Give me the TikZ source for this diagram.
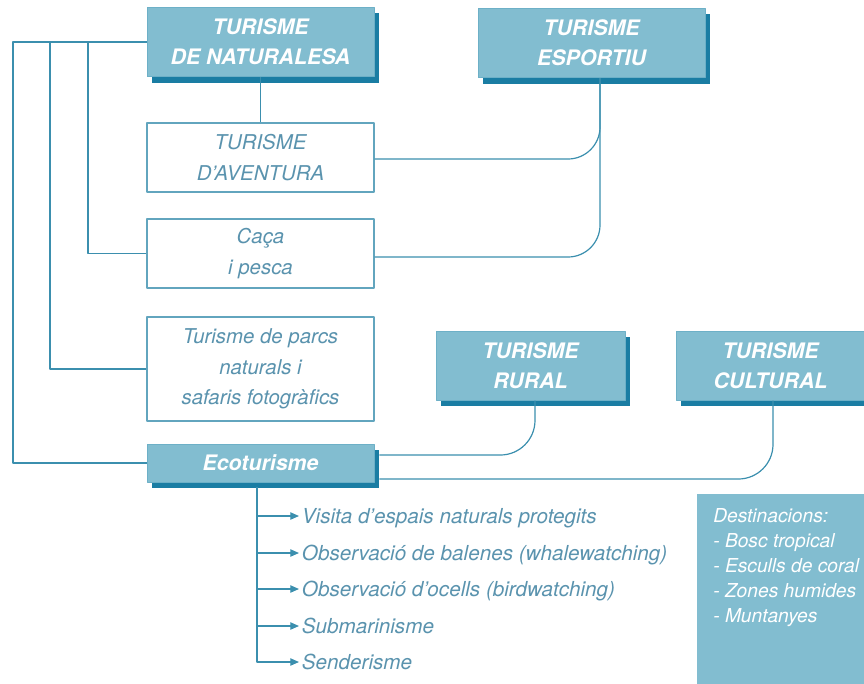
\documentclass[tikz,border=0pt]{standalone}
\usepackage{fontspec}
\setmainfont{TeX Gyre Heros}
\usetikzlibrary{calc,shadows,arrows.meta}
\definecolor{blauclar}{HTML}{82BDD0}
\definecolor{blaufosc}{HTML}{1A7DA3}
\definecolor{blaulinia}{HTML}{3B8FAE}
\definecolor{blautext}{HTML}{5A93AE}
\begin{document}
\begin{tikzpicture}[x=0.75pt, y=-0.75pt, >={Stealth[length=6.5pt, width=5.5pt, inset=0pt]}, line join=round,
	caixa/.style={fill=blauclar, draw=blauclar!80!blaufosc, line width=0.5pt, minimum width=170.25pt, minimum height=52pt, align=center, text=white, font=\fontsize{16}{22.5}\selectfont\bfseries\itshape, general shadow={fill=blaufosc, shadow xshift=3.75pt, shadow yshift=-4.5pt}},
	blanca/.style={fill=white, draw=blaulinia!80, line width=0.8pt, minimum width=170.25pt, minimum height=51.75pt, align=center, text=blautext, font=\fontsize{15.3}{23}\selectfont\itshape},
	enllac/.style={draw=blaulinia, line width=0.9pt},
	item/.style={anchor=west, inner xsep=2pt, inner ysep=0pt, text height=11pt, text depth=0pt, text=blautext, font=\fontsize{15.5}{18}\selectfont\itshape}]
			%% Marc
			\useasboundingbox (0,0) rectangle (864,683);
			\clip (0,0) rectangle (864,683);
			%% Caixes
			\node[caixa] (nat) at (260.5,42) {TURISME\\DE NATURALESA};
			\node[caixa] (esp) at (591.5,43) {TURISME\\ESPORTIU};
			\node[blanca] (aven) at (260.5,157.5) {TURISME\\D’AVENTURA};
			\node[blanca] (caca) at (260.5,253.5) {Caça\\i pesca};
			\node[blanca, minimum height=78pt] (parcs) at (260.5,369) {Turisme de parcs\\naturals i\\safaris fotogràfics};
			\node[caixa, minimum height=28.5pt] (eco) at (260.5,463) {Ecoturisme};
			\node[caixa, minimum width=141.75pt] (rural) at (530.5,365.5) {TURISME\\RURAL};
			\node[caixa, minimum width=141.75pt] (cult) at (770.5,365.5) {TURISME\\CULTURAL};
			%% Destinacions
			\fill[blauclar] (697,494) rectangle (900,700);
			\node[anchor=north west, inner sep=0pt, align=left, text=white, font=\fontsize{14.4}{18.75}\selectfont\itshape] (dest) at (713,508) {Destinacions:\\- Bosc tropical\\- Esculls de coral\\- Zones humides\\- Muntanyes};
			%% Llista de l'ecoturisme
			\node[item] (v1) at (299,516) {Visita d’espais naturals protegits};
			\node[item] (v2) at (299,553) {Observació de balenes (whalewatching)};
			\node[item] (v3) at (299,589) {Observació d’ocells (birdwatching)};
			\node[item] (v4) at (299,626) {Submarinisme};
			\node[item] (v5) at (299,662) {Senderisme};
			%% Enllaços
			\coordinate (railA) at (13,0);
			\coordinate (railB) at (50,0);
			\coordinate (railC) at (88,0);
			\coordinate (espbaix) at ($(esp.south)+(8.5,0)$);
			\coordinate (ruralbaix) at ($(rural.south)+(4.5,0)$);
			\coordinate (cultbaix) at ($(cult.south)+(2.5,0)$);
			\coordinate (tronc) at ($(eco.south)+(-3.5,5)$);
			\draw[enllac] (nat.south) -- (aven.north);
			\draw[enllac] (nat.west) -- (nat.west -| railA) |- (eco.west);
			\draw[enllac] (nat.west -| railB) |- (parcs.west);
			\draw[enllac] (nat.west -| railC) |- (caca.west);
			\draw[enllac, rounded corners=24pt] (espbaix) |- ($(aven.east)+(0,1.5)$);
			\draw[enllac, rounded corners=24pt] (espbaix) |- ($(caca.east)+(0,3.5)$);
			\draw[enllac, rounded corners=26pt] (ruralbaix) |- ($(eco.east)+(5,-8)$);
			\draw[enllac, rounded corners=26pt] (cultbaix) |- ($(eco.east)+(5,16)$);
			\draw[enllac, ->] (tronc) |- (v5.west);
			\foreach \i in {1,...,4}
				\draw[enllac, ->] (tronc |- v\i.west) -- (v\i.west);
		\end{tikzpicture}
\end{document}
